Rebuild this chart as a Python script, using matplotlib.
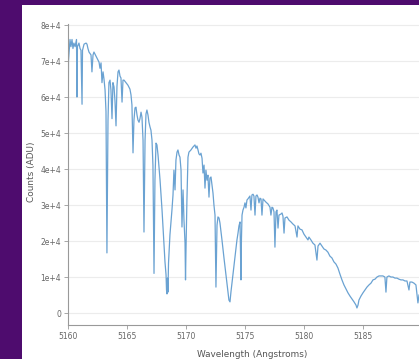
import matplotlib
matplotlib.use('Agg')
import matplotlib.pyplot as plt
from matplotlib.patches import Rectangle

# spectrum (wavelength in Angstroms, counts in ADU)
wavelength = [
    5160.0, 5160.04, 5160.17, 5160.25, 5160.34, 5160.42, 5160.5, 5160.6, 5160.72, 5160.76,
    5160.8, 5160.93, 5161.02, 5161.1, 5161.19, 5161.23, 5161.36, 5161.53, 5161.61, 5161.69,
    5161.78, 5161.95, 5162.03, 5162.12, 5162.2, 5162.37, 5162.54, 5162.63, 5162.71, 5162.8,
    5162.88, 5162.97, 5163.05, 5163.14, 5163.22, 5163.3, 5163.39, 5163.47, 5163.56, 5163.64,
    5163.73, 5163.81, 5163.9, 5163.98, 5164.07, 5164.15, 5164.24, 5164.32, 5164.41, 5164.49,
    5164.58, 5164.66, 5164.75, 5164.92, 5165.08, 5165.25, 5165.34, 5165.42, 5165.51, 5165.59,
    5165.68, 5165.76, 5165.85, 5165.93, 5166.02, 5166.1, 5166.19, 5166.27, 5166.36, 5166.44,
    5166.53, 5166.61, 5166.69, 5166.78, 5166.86, 5166.95, 5167.03, 5167.12, 5167.2, 5167.29,
    5167.37, 5167.46, 5167.54, 5167.63, 5167.8, 5167.97, 5168.14, 5168.22, 5168.31, 5168.35,
    5168.39, 5168.43, 5168.47, 5168.52, 5168.64, 5168.81, 5168.9, 5168.98, 5169.07, 5169.15,
    5169.24, 5169.32, 5169.41, 5169.49, 5169.58, 5169.66, 5169.75, 5169.83, 5169.92, 5169.96,
    5170.0, 5170.08, 5170.17, 5170.25, 5170.42, 5170.59, 5170.76, 5170.85, 5170.93, 5171.02,
    5171.1, 5171.19, 5171.27, 5171.36, 5171.44, 5171.53, 5171.61, 5171.69, 5171.78, 5171.86,
    5171.95, 5172.03, 5172.12, 5172.2, 5172.29, 5172.37, 5172.46, 5172.54, 5172.63, 5172.71,
    5172.8, 5172.88, 5173.05, 5173.22, 5173.39, 5173.56, 5173.64, 5173.73, 5173.81, 5173.98,
    5174.15, 5174.32, 5174.41, 5174.49, 5174.58, 5174.66, 5174.7, 5174.75, 5174.83, 5174.92,
    5175.0, 5175.08, 5175.17, 5175.25, 5175.42, 5175.51, 5175.59, 5175.68, 5175.76, 5175.85,
    5175.93, 5176.02, 5176.1, 5176.19, 5176.27, 5176.36, 5176.44, 5176.53, 5176.61, 5176.78,
    5176.95, 5177.12, 5177.2, 5177.29, 5177.37, 5177.46, 5177.54, 5177.63, 5177.71, 5177.8,
    5177.88, 5178.05, 5178.14, 5178.22, 5178.31, 5178.39, 5178.56, 5178.73, 5178.9, 5179.07,
    5179.24, 5179.41, 5179.49, 5179.66, 5179.83, 5180.0, 5180.17, 5180.34, 5180.42, 5180.59,
    5180.76, 5180.93, 5181.1, 5181.19, 5181.36, 5181.53, 5181.69, 5181.86, 5182.03, 5182.2,
    5182.37, 5182.54, 5182.71, 5182.88, 5183.05, 5183.22, 5183.39, 5183.56, 5183.73, 5183.9,
    5184.07, 5184.24, 5184.41, 5184.49, 5184.58, 5184.66, 5184.83, 5185.0, 5185.17, 5185.34,
    5185.51, 5185.68, 5185.85, 5186.02, 5186.19, 5186.36, 5186.53, 5186.69, 5186.86, 5186.95,
    5187.03, 5187.2, 5187.37, 5187.54, 5187.71, 5187.88, 5188.05, 5188.22, 5188.39, 5188.56,
    5188.73, 5188.9, 5188.98, 5189.15, 5189.32, 5189.49, 5189.66, 5189.75,
]
counts = [
    35500, 70000, 76000, 74000, 76000, 73500, 75000, 74000, 76000, 60000,
    74000, 75000, 73500, 73000, 58000, 73000, 74700, 75000, 74700, 73500,
    72500, 71700, 67000, 71700, 72500, 71400, 70300, 69700, 68000, 69500,
    64000, 67000, 65000, 62000, 56000, 16700, 53600, 64000, 64700, 62000,
    54000, 64000, 62800, 59000, 52000, 63000, 67000, 67500, 65800, 65300,
    58600, 64700, 64700, 64000, 63300, 62200, 60600, 57800, 44500, 53600,
    57000, 57200, 55000, 53600, 53000, 54000, 55800, 54400, 48000, 22500,
    48000, 55300, 56400, 55000, 53000, 51700, 50800, 48000, 41000, 11000,
    37000, 47200, 46700, 43900, 37000, 28600, 18900, 14200, 10600, 6400,
    5300, 9700, 5800, 13900, 21700, 28600, 32800, 39700, 34200, 42500,
    44700, 45300, 43900, 43300, 39700, 23900, 34200, 25800, 19400, 9200,
    17500, 31400, 43300, 44700, 45300, 46100, 46700, 45800, 46400, 45300,
    44200, 43900, 44400, 43000, 38900, 41100, 34700, 39700, 36900, 38300,
    32200, 37500, 37800, 35600, 33300, 30000, 27200, 7200, 24400, 26700,
    26400, 25000, 20300, 15300, 10600, 5800, 3600, 3100, 5800, 10600,
    15600, 20300, 22200, 24200, 25300, 9200, 20300, 27200, 28600, 29400,
    30600, 29200, 31400, 31700, 32500, 28600, 32800, 33000, 32500, 27200,
    32500, 32800, 32200, 30600, 31900, 31700, 27200, 31700, 31400, 30800,
    30300, 29400, 27200, 29400, 29200, 28100, 18300, 28100, 28600, 23600,
    27200, 27500, 27800, 26900, 22200, 26400, 26700, 25800, 25300, 24700,
    24200, 21100, 24200, 23300, 23100, 21900, 21100, 20300, 21100, 20300,
    19400, 18900, 14700, 18600, 19400, 18600, 17800, 17500, 16900, 15800,
    15300, 14200, 13600, 12500, 10800, 9200, 7800, 6700, 5600, 4700,
    3900, 3100, 2200, 1400, 2200, 3600, 4700, 5600, 6400, 7200,
    7800, 8300, 9200, 9400, 10000, 10300, 10300, 10300, 10000, 5800,
    10000, 10300, 10000, 10000, 9700, 9700, 9400, 9200, 9200, 8900,
    8900, 6400, 8600, 8600, 8300, 7800, 2800, 5000,
]

x_ticks = [5160, 5165, 5170, 5175, 5180, 5185]
y_ticks = [0, 10000, 20000, 30000, 40000, 50000, 60000, 70000, 80000]
y_tick_labels = ['0', '1e+4', '2e+4', '3e+4', '4e+4', '5e+4', '6e+4', '7e+4', '8e+4']

fig = plt.figure(figsize=(4.19, 3.59), dpi=100, facecolor='#4e0c6e')
# white card behind the chart
card = Rectangle((22 / 419, 0), 1, 354 / 359, transform=fig.transFigure,
                 facecolor='white', edgecolor='none', zorder=-10)
fig.add_artist(card)

ax = fig.add_axes([68 / 419, 34 / 359, 351 / 419, 301 / 359])
ax.set_facecolor('none')
ax.plot(wavelength, counts, color='#6aa2d2', lw=0.9)

ax.set_xlim(5160, 5189.75)
ax.set_ylim(-3333, 80300)
ax.set_xticks(x_ticks)
ax.set_xticklabels([str(t) for t in x_ticks])
ax.set_yticks(y_ticks)
ax.set_yticklabels(y_tick_labels)
ax.grid(axis='y', color='#ececec', lw=0.8)
ax.set_axisbelow(True)

for s in ['top', 'right']:
    ax.spines[s].set_visible(False)
for s in ['left', 'bottom']:
    ax.spines[s].set_color('#999999')
    ax.spines[s].set_linewidth(0.8)
ax.tick_params(colors='#999999', labelcolor='#666666', labelsize=5.5, length=3, width=0.6, pad=2)

ax.set_xlabel('Wavelength (Angstroms)', fontsize=6.4, color='#555555')
ax.set_ylabel('Counts (ADU)', fontsize=6.4, color='#555555')
ax.xaxis.set_label_coords(0.524, -0.082)
ax.yaxis.set_label_coords(-0.09, 0.508)

fig.savefig('out.png', dpi=100, facecolor=fig.get_facecolor())
